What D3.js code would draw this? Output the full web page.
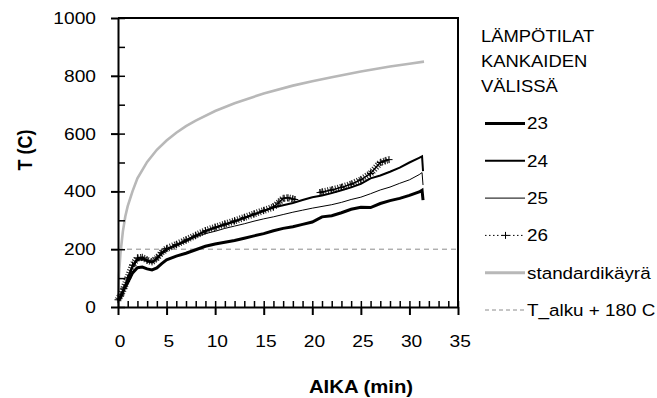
<!DOCTYPE html>
<html>
<head>
<meta charset="utf-8">
<script src="https://cdn.jsdelivr.net/npm/d3@7"></script>
<style>
  body { margin: 0; background: #fff; }
  svg { display: block; font-family: "Liberation Sans", Arial, sans-serif; }
</style>
</head>
<body>
<div id="chart"></div>
<script>
// data (time in minutes, temperature in C)
var minutes = [0, 0.3, 0.6, 1, 1.5, 2, 2.5, 3, 3.5, 4, 4.5, 5, 6, 7, 8, 9, 10, 11, 12, 13, 14, 15, 16, 17, 18, 19, 20, 21, 22, 23, 24, 25, 26, 27, 28, 29, 30, 31, 31.3, 31.4];
var t23 = [22, 35, 60, 85, 118, 136, 138, 132, 128, 135, 150, 163, 176, 186, 198, 210, 218, 224, 230, 238, 246, 254, 264, 272, 278, 286, 294, 312, 316, 326, 338, 345, 344, 358, 368, 376, 386, 398, 404, 370];
var t24 = [25, 40, 62, 98, 140, 165, 168, 160, 155, 168, 186, 200, 214, 230, 246, 262, 274, 284, 296, 308, 320, 332, 344, 352, 360, 370, 380, 386, 394, 404, 414, 426, 445, 455, 468, 482, 500, 516, 521, 470];
var t25 = [24, 38, 60, 95, 136, 160, 164, 156, 152, 164, 182, 196, 210, 226, 242, 254, 262, 272, 280, 288, 297, 305, 312, 320, 328, 335, 342, 348, 354, 362, 372, 380, 392, 405, 415, 428, 440, 458, 465, 422];
var minutes26 = [0, 0.3, 0.6, 1, 1.5, 2, 2.5, 3, 3.5, 4, 4.5, 5, 6, 7, 8, 9, 10, 11, 12, 13, 14, 15, 16, 16.5, 17, 17.5, 18, 18.2, 19.5, 20.8, 21, 22, 23, 24, 25, 26, 27, 27.5, 27.9];
var t26 = [25, 42, 65, 100, 145, 170, 172, 162, 156, 170, 188, 202, 216, 232, 248, 264, 276, 287, 298, 310, 322, 334, 346, 360, 376, 378, 374, 372, null, 396, 398, 405, 414, 425, 440, 462, 500, 506, 510];
var stdMinutes = [0, 0.1, 0.25, 0.5, 0.75, 1, 1.5, 2, 3, 4, 5, 6, 7, 8, 10, 12, 15, 18, 20, 22, 25, 28, 30, 31.5];
var stdValues = [20, 110, 185, 261, 313, 349, 401, 445, 502, 544, 576, 603, 626, 645, 678, 705, 739, 766, 781, 795, 815, 832, 842, 849];
var limitValue = 200;

var xTicks = [0, 5, 10, 15, 20, 25, 30, 35];
var yTicks = [0, 200, 400, 600, 800, 1000];
var legendTitle = ["LÄMPÖTILAT", "KANKAIDEN", "VÄLISSÄ"];
var legendNames = ["23", "24", "25", "26", "standardikäyrä", "T_alku + 180 C"];

var width = 657, height = 398;
var plotLeft = 118, plotTop = 18, plotRight = 458, plotBottom = 307;
var stretch = 1.13;

var svg = d3.select("#chart").append("svg")
    .attr("width", width).attr("height", height);

var x = d3.scaleLinear().domain([0, 35]).range([plotLeft, plotRight]);
var y = d3.scaleLinear().domain([0, 1000]).range([plotBottom, plotTop]);

function pairs(xs, ys) {
  return xs.map(function(d, i) { return [d, ys[i]]; });
}

var line = d3.line()
  .defined(function(d) { return d[1] != null; })
  .x(function(d) { return x(d[0]); })
  .y(function(d) { return y(d[1]); });

// plot frame (top and right)
svg.append("path")
  .attr("d", "M" + plotLeft + "," + plotTop + "H" + plotRight + "V" + plotBottom)
  .attr("fill", "none").attr("stroke", "#000").attr("stroke-width", 2);

// T_alku + 180 line
svg.append("path")
  .datum([[0, limitValue], [35, limitValue]])
  .attr("d", line)
  .attr("fill", "none").attr("stroke", "#8c8c8c").attr("stroke-width", 1)
  .attr("stroke-dasharray", "5,4");

// standard curve
svg.append("path")
  .datum(pairs(stdMinutes, stdValues))
  .attr("d", line)
  .attr("fill", "none").attr("stroke", "#b8b8b8").attr("stroke-width", 2.6);

// 26: dense crosses
var s26 = pairs(minutes26, t26);
svg.append("path")
  .datum(s26)
  .attr("d", line)
  .attr("fill", "none").attr("stroke", "#222").attr("stroke-width", 7)
  .attr("stroke-dasharray", "1,1.6");
svg.append("path")
  .datum(s26)
  .attr("d", line)
  .attr("fill", "none").attr("stroke", "#000").attr("stroke-width", 1.5);
svg.selectAll(".cross")
  .data(s26.filter(function(d) { return d[1] != null; }))
  .enter().append("path")
  .attr("class", "cross")
  .attr("transform", function(d) { return "translate(" + x(d[0]) + "," + y(d[1]) + ")"; })
  .attr("d", "M-3.5,0H3.5M0,-3.5V3.5")
  .attr("stroke", "#000").attr("stroke-width", 1);

// 25, 24, 23
svg.append("path").datum(pairs(minutes, t25)).attr("d", line)
  .attr("fill", "none").attr("stroke", "#000").attr("stroke-width", 1);
svg.append("path").datum(pairs(minutes, t24)).attr("d", line)
  .attr("fill", "none").attr("stroke", "#000").attr("stroke-width", 2);
svg.append("path").datum(pairs(minutes, t23)).attr("d", line)
  .attr("fill", "none").attr("stroke", "#000").attr("stroke-width", 3);

// axes
var yAxis = svg.append("g").attr("transform", "translate(" + plotLeft + ",0)")
  .call(d3.axisLeft(y).tickValues(yTicks).tickFormat(d3.format("d"))
    .tickSizeInner(7).tickSizeOuter(0).tickPadding(15));
var yMinor = svg.append("g").attr("transform", "translate(" + plotLeft + ",0)")
  .call(d3.axisLeft(y).tickValues(d3.range(0, 1001, 100)).tickSize(-7).tickFormat(""));
yMinor.select(".domain").remove();

var xAxis = svg.append("g").attr("transform", "translate(0," + plotBottom + ")")
  .call(d3.axisBottom(x).tickValues(xTicks).tickSizeInner(8).tickSizeOuter(0).tickPadding(20));
var xMinor = svg.append("g").attr("transform", "translate(0," + plotBottom + ")")
  .call(d3.axisBottom(x).tickValues(d3.range(0, 36, 1)).tickSize(-6).tickFormat(""));
xMinor.select(".domain").remove();

svg.selectAll(".domain, .tick line").attr("stroke", "#000").attr("stroke-width", 2);
xMinor.selectAll(".tick line").attr("stroke-width", 1.5);
yMinor.selectAll(".tick line").attr("stroke-width", 1.5);
svg.selectAll(".tick text").attr("font-size", "17px").attr("fill", "#000")
  .attr("font-family", "Liberation Sans, Arial, sans-serif");
xAxis.selectAll(".tick text").attr("dx", 1.5);

// axis titles
svg.append("text").attr("class", "plain")
  .attr("x", 361).attr("y", 393)
  .attr("text-anchor", "middle").attr("font-size", "18px").attr("font-weight", "bold")
  .text("AIKA (min)");
svg.append("text")
  .attr("transform", "translate(32,150) scale(" + stretch + ",1) rotate(-90)")
  .attr("text-anchor", "middle").attr("font-size", "18px").attr("font-weight", "bold")
  .text("T (C)");

// legend
var lg = svg.append("g");
lg.selectAll(".ltitle").data(legendTitle).enter().append("text")
  .attr("class", "ltitle plain")
  .attr("x", 481).attr("y", function(d, i) { return 41.7 + i * 25; })
  .attr("font-size", "16.3px")
  .text(function(d) { return d; });

var legendStyle = [
  { stroke: "#000", width: 3, dash: null },
  { stroke: "#000", width: 2, dash: null },
  { stroke: "#000", width: 1, dash: null },
  { stroke: "#000", width: 1, dash: "1.5,2.5", cross: true },
  { stroke: "#b8b8b8", width: 3, dash: null },
  { stroke: "#8c8c8c", width: 1, dash: "4,3" }
];

legendNames.forEach(function(name, i) {
  var ly = 123.5 + i * 37.3;
  var st = legendStyle[i];
  lg.append("line")
    .attr("x1", 485).attr("x2", 525).attr("y1", ly).attr("y2", ly)
    .attr("stroke", st.stroke).attr("stroke-width", st.width)
    .attr("stroke-dasharray", st.dash);
  if (st.cross) {
    lg.append("path")
      .attr("d", "M502,"+ ly + "h7M505.5," + (ly - 3.5) + "v7")
      .attr("stroke", "#000").attr("stroke-width", 1);
  }
  lg.append("text").attr("class", "plain")
    .attr("x", 527).attr("y", ly).attr("dy", "0.36em")
    .attr("font-size", "16.7px")
    .text(name);
});

// original text is a bit wide: stretch it horizontally round its anchor
svg.selectAll(".tick text, text.plain").each(function() {
  var el = d3.select(this);
  var tx = +el.attr("x") || 0;
  el.attr("transform", "matrix(" + stretch + ",0,0,1," + ((1 - stretch) * tx) + ",0)");
});
</script>
</body>
</html>
